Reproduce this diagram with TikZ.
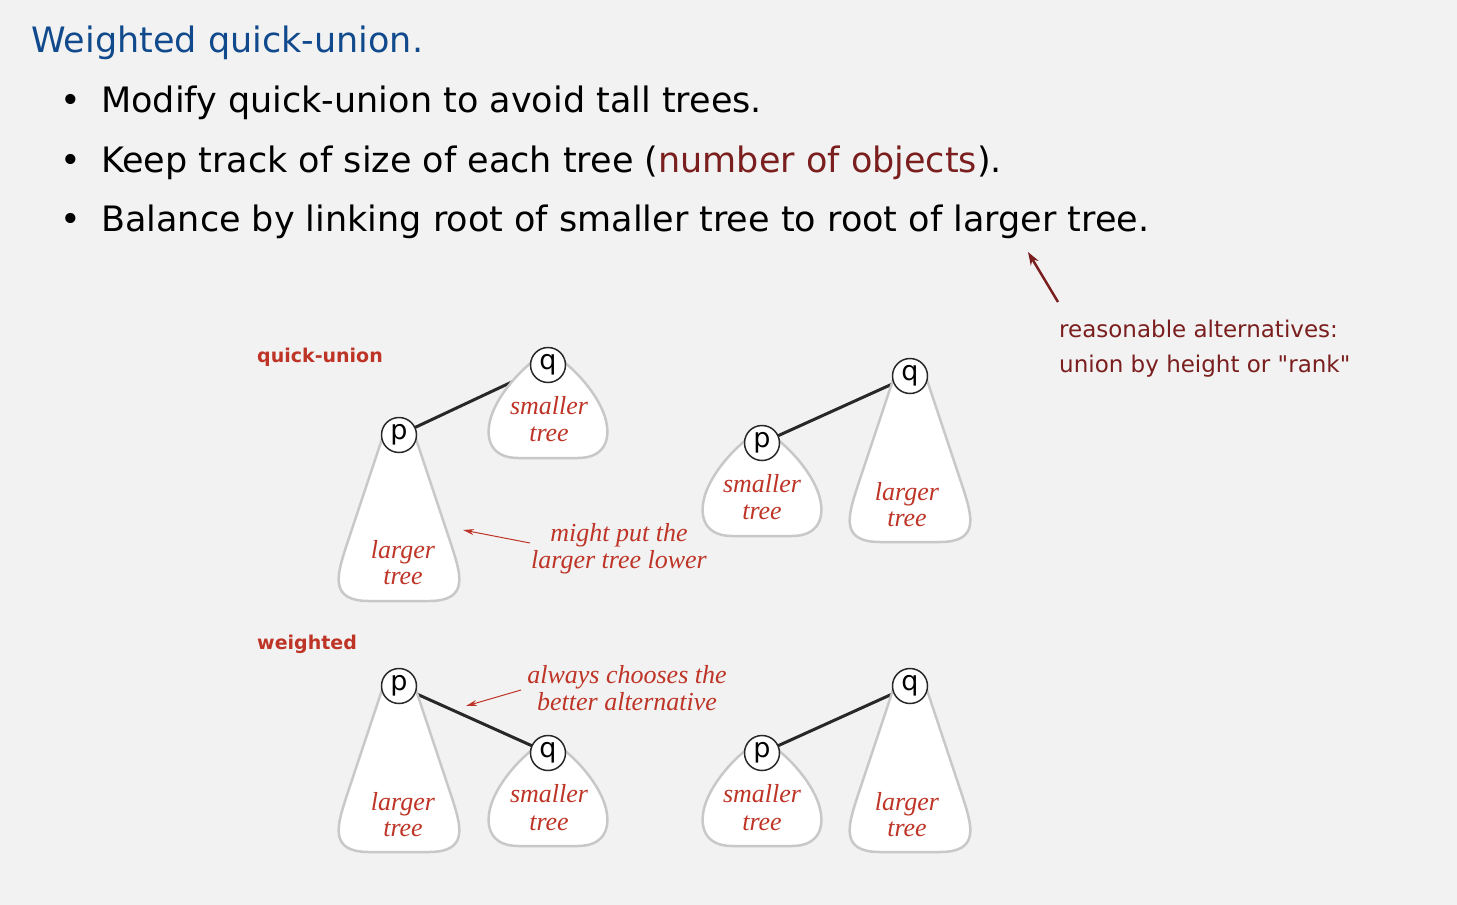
\documentclass[tikz,border=0pt]{standalone}
\usepackage{fontspec}
\usetikzlibrary{arrows.meta}
\newfontfamily\uisans{DejaVu Sans}
\newfontfamily\itserif{Liberation Serif}
\definecolor{bg}{RGB}{242,242,242}
\definecolor{titleblue}{RGB}{16,74,140}
\definecolor{darkred}{RGB}{122,30,30}
\definecolor{labelred}{RGB}{190,52,38}
\definecolor{treegray}{RGB}{200,200,200}
\definecolor{edgeblack}{RGB}{40,40,40}
\tikzset{
  tri/.style={draw=treegray, line width=2.5pt, fill=white},
  rootnode/.style={circle, draw=edgeblack, line width=1.5pt, fill=white, minimum size=35pt, inner sep=0pt, font=\uisans\fontsize{27}{27}\selectfont},
  link/.style={draw=edgeblack, line width=3pt},
  treetxt/.style={anchor=base, inner sep=0pt, text=labelred, font=\itserif\itshape\fontsize{26}{28}\selectfont},
  note/.style={anchor=base, inner sep=0pt, text=labelred, font=\itserif\itshape\fontsize{26}{28}\selectfont},
  bullettxt/.style={anchor=base west, inner sep=0pt, font=\uisans\fontsize{35}{40}\selectfont},
  headtxt/.style={anchor=base west, inner sep=0pt, text=labelred, font=\uisans\bfseries\fontsize{19}{22}\selectfont},
  alttxt/.style={anchor=base west, inner sep=0pt, text=darkred, font=\uisans\fontsize{23}{26}\selectfont},
  redarrow/.style={draw=labelred, line width=1pt, -{Stealth[length=11pt,width=6pt]}},
  darkarrow/.style={draw=darkred, line width=2.5pt, -{Stealth[length=13pt,width=9pt]}}
}
\newcommand\largetree[1]{\draw[tri, shift={(#1)}]
  (-17,4) -- (-53,112) .. controls (-62,140) and (-70,166) .. (-30,166)
  -- (30,166) .. controls (70,166) and (62,140) .. (53,112) -- (17,4) -- (0,-10) -- cycle;}
\newcommand\smalltree[1]{\draw[tri, shift={(#1)}]
  (-16,-3) .. controls (-30,8) and (-50,30) .. (-57,52)
  .. controls (-64,75) and (-56,93) .. (-30,93) -- (30,93)
  .. controls (56,93) and (64,75) .. (57,52)
  .. controls (50,30) and (30,8) .. (16,-3) -- (0,-10) -- cycle;}
\begin{document}
\begin{tikzpicture}[x=1pt,y=-1pt]
\fill[bg] (0,0) rectangle (1457,905);
\useasboundingbox (0,0) rectangle (1457,905);

% header text
\node[bullettxt, text=titleblue] (title) at (31,52) {Weighted quick-union.};
\node[bullettxt] (b1) at (60,112) {•};
\node[bullettxt] (l1) at (101,112) {Modify quick-union to avoid tall trees.};
\node[bullettxt] (b2) at (60,172) {•};
\node[bullettxt] (l2) at (101,172) {Keep track of size of each tree (\textcolor{darkred}{number of objects}).};
\node[bullettxt] (b3) at (60,231) {•};
\node[bullettxt] (l3) at (101,231) {Balance by linking root of smaller tree to root of larger tree.};

% alternatives note
\node[alttxt] (alt1) at (1059,337) {reasonable alternatives:};
\node[alttxt] (alt2) at (1059,372) {union by height or "rank"};
\coordinate (altstart) at (1058,302);
\coordinate (altend) at (1028,252);
\draw[darkarrow] (altstart) -- (altend);

% section labels
\node[headtxt] (hq) at (257,362) {quick-union};
\node[headtxt] (hw) at (257,649) {weighted};

% root coordinates
\coordinate (c1p) at (399,435);
\coordinate (c1q) at (548,365);
\coordinate (c2p) at (762,443);
\coordinate (c2q) at (910,376);
\coordinate (c3p) at (399,686);
\coordinate (c3q) at (548,753);
\coordinate (c4p) at (762,753);
\coordinate (c4q) at (910,686);

% links
\draw[link] (c1p) -- (c1q);
\draw[link] (c2p) -- (c2q);
\draw[link] (c3p) -- (c3q);
\draw[link] (c4p) -- (c4q);

% tree bodies
\largetree{c1p}
\smalltree{c1q}
\smalltree{c2p}
\largetree{c2q}
\largetree{c3p}
\smalltree{c3q}
\smalltree{c4p}
\largetree{c4q}

% roots
\node[rootnode] (r1p) at (c1p) {p};
\node[rootnode] (r1q) at (c1q) {q};
\node[rootnode] (r2p) at (c2p) {p};
\node[rootnode] (r2q) at (c2q) {q};
\node[rootnode] (r3p) at (c3p) {p};
\node[rootnode] (r3q) at (c3q) {q};
\node[rootnode] (r4p) at (c4p) {p};
\node[rootnode] (r4q) at (c4q) {q};

% tree labels
\node[treetxt] (t1a) at (403,558) {larger};
\node[treetxt] (t1b) at (403,584) {tree};
\node[treetxt] (t1c) at (549,414) {smaller};
\node[treetxt] (t1d) at (549,441) {tree};
\node[treetxt] (t2a) at (762,492) {smaller};
\node[treetxt] (t2b) at (762,519) {tree};
\node[treetxt] (t2c) at (907,500) {larger};
\node[treetxt] (t2d) at (907,526) {tree};
\node[treetxt] (t3a) at (403,810) {larger};
\node[treetxt] (t3b) at (403,836) {tree};
\node[treetxt] (t3c) at (549,802) {smaller};
\node[treetxt] (t3d) at (549,830) {tree};
\node[treetxt] (t4a) at (762,802) {smaller};
\node[treetxt] (t4b) at (762,830) {tree};
\node[treetxt] (t4c) at (907,810) {larger};
\node[treetxt] (t4d) at (907,836) {tree};

% notes
\node[note] (n1a) at (619,541) {might put the};
\node[note] (n1b) at (619,568) {larger tree lower};
\coordinate (n1s) at (530,543);
\coordinate (n1e) at (463,530);
\draw[redarrow] (n1s) -- (n1e);

\node[note] (n2a) at (627,683) {always chooses the};
\node[note] (n2b) at (627,710) {better alternative};
\coordinate (n2s) at (521,690);
\coordinate (n2e) at (466,706);
\draw[redarrow] (n2s) -- (n2e);
\end{tikzpicture}
\end{document}
